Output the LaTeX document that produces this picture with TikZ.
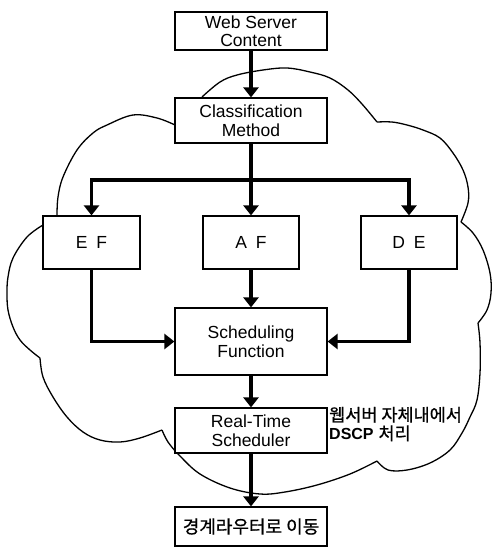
\documentclass[tikz,border=0pt]{standalone}
\usepackage{fontspec}
\setmainfont{Liberation Sans}
\newfontfamily\kr[FakeBold=0.8]{Noto Sans CJK KR}
\usetikzlibrary{arrows.meta}
\begin{document}
\begin{tikzpicture}[x=1pt,y=-1pt,
  box/.style={draw, line width=1.2pt, fill=white, align=center, inner sep=0pt,
    font=\fontsize{17.5}{18.5}\selectfont},
  wide/.style={box, minimum width=152pt},
  small/.style={box, minimum width=96pt, minimum height=53pt},
  arr/.style={line width=3.6pt, -{Triangle[width=15pt,length=10pt]}},
  link/.style={line width=3.6pt},
  cloud/.style={line width=1.3pt, line join=round}]
\useasboundingbox (0,0) rectangle (493,547);

% cloud outline
\draw[cloud] plot[smooth, tension=0.6] coordinates {(202,97) (220,82) (237,75) (263,70) (287,68) (310,72) (330,78) (348,90) (362,104) (377,122)};
\draw[cloud] plot[smooth, tension=0.6] coordinates {(377,122) (392,122) (407,125) (423,130) (440,138) (453,153) (463,170) (468,187) (468,203) (461,222)};
\draw[cloud] plot[smooth, tension=0.6] coordinates {(461,222) (473,233) (483,250) (490,273) (491,293) (487,310) (478,323)};
\draw[cloud] plot[smooth, tension=0.6] coordinates {(478,323) (480,343) (480,373) (477,400) (470,417) (462,433) (450,450) (430,463) (407,470) (388,470) (377,461)};
\draw[cloud] plot[smooth, tension=0.6] coordinates {(377,461) (350,474) (317,485) (285,492) (260,494) (230,488) (200,474) (180,456) (168,442) (162,430)};
\draw[cloud] plot[smooth, tension=0.6] coordinates {(162,430) (140,438) (120,442) (100,440) (83,432) (67,417) (53,397) (43,377) (40,358)};
\draw[cloud] plot[smooth, tension=0.6] coordinates {(40,358) (30,350) (20,340) (13,327) (8,310) (7,293) (8,277) (13,258) (27,237) (43,225)};
\draw[cloud] plot[smooth, tension=0.6] coordinates {(57,215) (58,197) (63,177) (77,150) (93,133) (107,125) (133,115) (157,118) (175,125)};

% boxes
\node[wide, minimum height=38pt] (web) at (251,31) {Web Server\\Content};
\node[wide, minimum height=45pt] (cm) at (251,120.5) {Classification\\Method};
\node[small, minimum width=97pt] (ef) at (91.5,242.5) {\spaceskip=9pt E F};
\node[small] (af) at (251,242.5) {\spaceskip=9pt A F};
\node[small] (de) at (409,242.5) {\spaceskip=9pt D E};
\node[wide, minimum height=67pt] (sf) at (251,341.5) {Scheduling\\Function};
\node[wide, minimum height=45pt] (rt) at (251,430.5) {Real-Time\\Scheduler};
\node[wide, minimum height=39pt, font=\kr\fontsize{18}{20}\selectfont] (br) at (251,526.5) {경계라우터로 이동};
\node[anchor=west, align=left, inner sep=0pt, font=\fontsize{17.5}{18.5}\selectfont] (note) at (329,424)
  {{\kr 웹서버 자체내에서}\\{\fontsize{16}{18.5}\selectfont\bfseries DSCP} {\kr 처리}};

% connectors
\coordinate (split) at (251,180);
\draw[arr] (web.south) -- (cm.north);
\draw[link] (cm.south) -- (split);
\draw[arr] (split) -| (ef.north);
\draw[arr] (split) -- (af.north);
\draw[arr] (split) -| (de.north);
\draw[arr] (ef.south) |- (sf.west);
\draw[arr] (af.south) -- (sf.north);
\draw[arr] (de.south) |- (sf.east);
\draw[arr] (sf.south) -- (rt.north);
\draw[arr] (rt.south) -- (br.north);
\end{tikzpicture}
\end{document}
